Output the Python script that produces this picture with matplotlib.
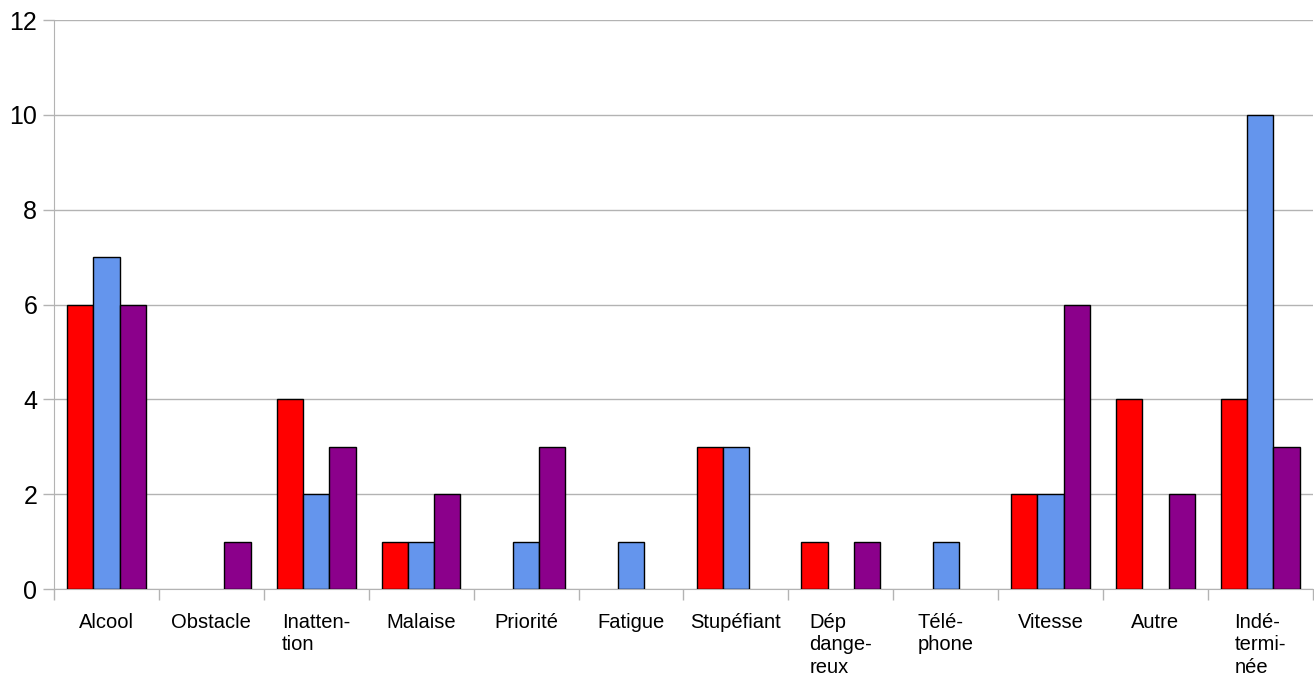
import numpy as np
import matplotlib.pyplot as plt

plt.rcParams['font.family'] = ['Liberation Sans', 'DejaVu Sans']

# Categories and series values
categories = ["Alcool", "Obstacle", "Inatten-\ntion", "Malaise", "Priorité", "Fatigue",
              "Stupéfiant", "Dép\ndange-\nreux", "Télé-\nphone", "Vitesse", "Autre",
              "Indé-\ntermi-\nnée"]
serie_rouge = [6, 0, 4, 1, 0, 0, 3, 1, 0, 2, 4, 4]
serie_bleue = [7, 0, 2, 1, 1, 1, 3, 0, 1, 2, 0, 10]
serie_violette = [6, 1, 3, 2, 3, 0, 0, 1, 0, 6, 2, 3]

series = [serie_rouge, serie_bleue, serie_violette]
colors = ["#ff0000", "#6495ed", "#8b008b"]

fig = plt.figure(figsize=(13.14, 6.79), dpi=100)
ax = fig.add_axes([0.0411, 0.1325, 0.958, 0.838])

x = np.arange(len(categories))
width = 0.25
for i, (vals, col) in enumerate(zip(series, colors)):
    # no outline for empty bars
    lw = [1 if v else 0 for v in vals]
    ax.bar(x + (i - 1) * width, vals, width, color=col, edgecolor="black",
           linewidth=lw, zorder=3)

grey = "#b3b3b3"
ax.set_xlim(-0.5, len(categories) - 0.5)
ax.set_ylim(0, 12)
ax.set_yticks(range(0, 13, 2))
ax.yaxis.grid(True, color=grey, linewidth=1, zorder=0)

ax.set_xticks(x)
ax.set_xticklabels(categories, fontsize=14.5, multialignment="left", va="top",
                   linespacing=1.25)
ax.set_xticks(np.arange(-0.5, len(categories)), minor=True)
ax.tick_params(axis="x", which="major", length=0, pad=17)
ax.tick_params(axis="x", which="minor", length=8, color=grey, width=1)
ax.tick_params(axis="y", length=8, color=grey, width=1, labelsize=18, pad=4)

for side in ["top", "right"]:
    ax.spines[side].set_visible(False)
for side in ["left", "bottom"]:
    ax.spines[side].set_color(grey)

fig.savefig("out.png", dpi=100)
